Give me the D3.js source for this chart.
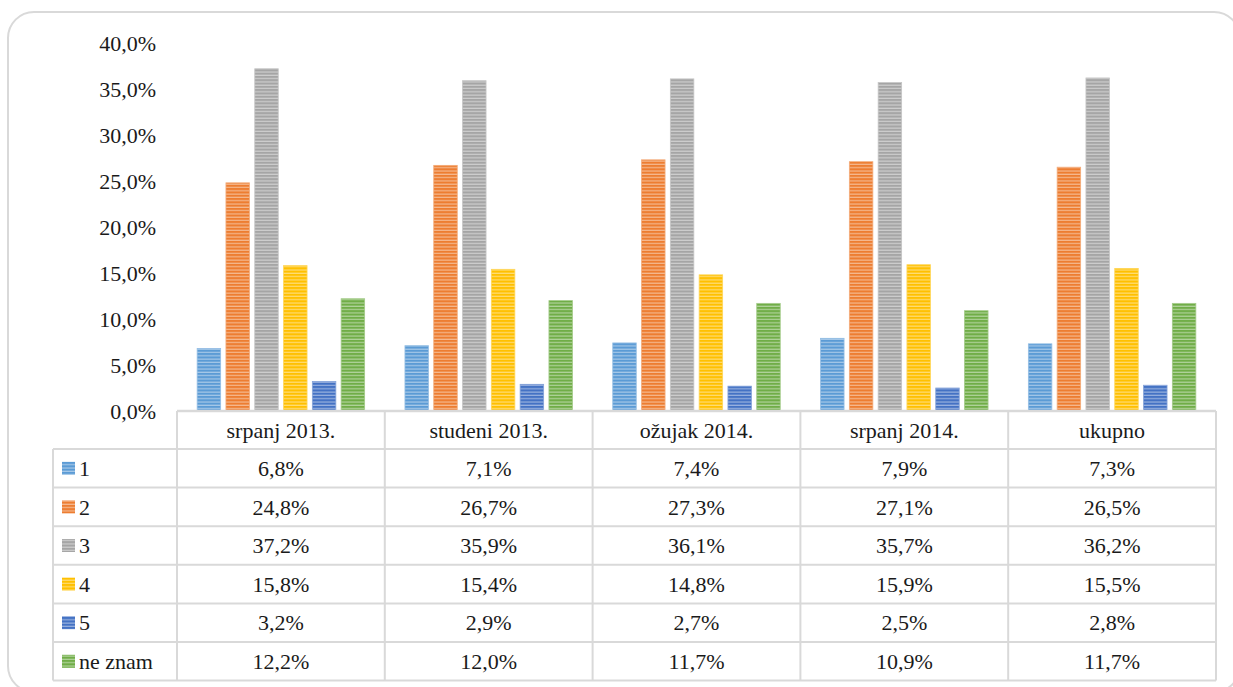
<!DOCTYPE html>
<html>
<head>
<meta charset="utf-8">
<script src="https://cdn.jsdelivr.net/npm/d3@7"></script>
<style>
  html, body { margin: 0; padding: 0; background: #fff; }
  svg { display: block; }
</style>
</head>
<body>
<svg id="chart" width="1233" height="687"></svg>
<script>
const categories = ["srpanj 2013.", "studeni 2013.", "ožujak 2014.", "srpanj 2014.", "ukupno"];
const seriesNames = ["1", "2", "3", "4", "5", "ne znam"];
const seriesColors = ["#5B9BD5", "#ED7D31", "#A5A5A5", "#FFC000", "#4472C4", "#70AD47"];
const s1 = [6.8, 7.1, 7.4, 7.9, 7.3];
const s2 = [24.8, 26.7, 27.3, 27.1, 26.5];
const s3 = [37.2, 35.9, 36.1, 35.7, 36.2];
const s4 = [15.8, 15.4, 14.8, 15.9, 15.5];
const s5 = [3.2, 2.9, 2.7, 2.5, 2.8];
const s6 = [12.2, 12.0, 11.7, 10.9, 11.7];
const seriesValues = [s1, s2, s3, s4, s5, s6];
const yTicks = [0, 5, 10, 15, 20, 25, 30, 35, 40];

const FONT = "'Liberation Serif', 'DejaVu Serif', 'Times New Roman', serif";
const fmt = v => d3.format(".1f")(v).replace(".", ",") + "%";

const svg = d3.select("#chart");
const defs = svg.append("defs");

seriesColors.forEach((c, i) => {
  const light = d3.interpolateRgb(c, "#ffffff")(0.45);
  const p = defs.append("pattern")
    .attr("id", "pat" + i)
    .attr("patternUnits", "userSpaceOnUse")
    .attr("width", 8).attr("height", 3.3);
  p.append("rect").attr("width", 8).attr("height", 3.3).attr("fill", c);
  p.append("rect").attr("y", 2.1).attr("width", 8).attr("height", 1.2).attr("fill", light);
});

svg.append("rect")
  .attr("x", 8).attr("y", 12)
  .attr("width", 1232).attr("height", 680)
  .attr("rx", 26).attr("ry", 26)
  .attr("fill", "#fff")
  .attr("stroke", "#d9d9d9").attr("stroke-width", 2);

const left = 177, right = 1216;
const y = d3.scaleLinear().domain([0, 40]).range([411, 43]);
const x0 = d3.scaleBand().domain(categories).range([left, right]);
const x1 = d3.scaleBand().domain(seriesNames).range([0, x0.bandwidth()])
  .paddingInner(0.184).paddingOuter(0.7);

const yAxis = d3.axisLeft(y).tickValues(yTicks).tickFormat(v => fmt(v)).tickSize(0).tickPadding(0);
const ya = svg.append("g").attr("transform", "translate(156,0)").call(yAxis)
  .attr("font-family", FONT).attr("font-size", 22);
ya.select(".domain").remove();
ya.selectAll("text")
  .style("font-family", FONT)
  .style("font-size", "22px")
  .attr("fill", "#1a1a1a")
  .attr("dy", "0.35em");

const groups = svg.append("g").selectAll("g")
  .data(categories)
  .join("g")
  .attr("transform", d => `translate(${x0(d)},0)`);

groups.selectAll("rect")
  .data((d, ci) => seriesNames.map((s, si) => ({ s, si, v: seriesValues[si][ci] })))
  .join("rect")
  .attr("x", d => x1(d.s))
  .attr("width", x1.bandwidth())
  .attr("y", d => y(d.v))
  .attr("height", d => y(0) - y(d.v))
  .attr("fill", d => `url(#pat${d.si})`)
  .attr("stroke", d => d3.interpolateRgb(seriesColors[d.si], "#ffffff")(0.35))
  .attr("stroke-width", 0.8);

const rowTop = 411, headerH = 38, rowH = 38.6;
const tableLeft = 53;
const lineColor = "#d9d9d9";
const tbl = svg.append("g");
const rowY = i => rowTop + headerH + i * rowH;
const tableBottom = rowY(seriesNames.length);

tbl.append("line").attr("x1", left).attr("x2", right).attr("y1", rowTop).attr("y2", rowTop)
  .attr("stroke", lineColor).attr("stroke-width", 2.5);
d3.range(seriesNames.length + 1).forEach(i => {
  tbl.append("line").attr("x1", tableLeft).attr("x2", right).attr("y1", rowY(i)).attr("y2", rowY(i))
    .attr("stroke", lineColor).attr("stroke-width", 2);
});
tbl.append("line").attr("x1", tableLeft).attr("x2", tableLeft).attr("y1", rowY(0)).attr("y2", tableBottom)
  .attr("stroke", lineColor).attr("stroke-width", 2);
const vx = categories.map(c => x0(c)).concat([right]);
vx.forEach(xv => {
  tbl.append("line").attr("x1", xv).attr("x2", xv).attr("y1", rowTop).attr("y2", tableBottom)
    .attr("stroke", lineColor).attr("stroke-width", 2);
});

function txt(sel) {
  return sel.style("font-family", FONT).style("font-size", "22px").attr("fill", "#1a1a1a").attr("dy", "0.35em");
}

txt(tbl.selectAll("text.hdr").data(categories).join("text")
  .attr("class", "hdr")
  .attr("x", d => x0(d) + x0.bandwidth() / 2)
  .attr("y", rowTop + headerH / 2)
  .attr("text-anchor", "middle")
  .text(d => d));

seriesNames.forEach((s, si) => {
  const cy = rowY(si) + rowH / 2;
  tbl.append("rect").attr("x", 62).attr("y", cy - 6.5).attr("width", 13).attr("height", 13)
    .attr("fill", `url(#pat${si})`);
  txt(tbl.append("text").attr("x", 79).attr("y", cy).text(s));
  categories.forEach((c, ci) => {
    txt(tbl.append("text")
      .attr("x", x0(c) + x0.bandwidth() / 2)
      .attr("y", cy)
      .attr("text-anchor", "middle")
      .text(fmt(seriesValues[si][ci])));
  });
});
</script>
</body>
</html>
